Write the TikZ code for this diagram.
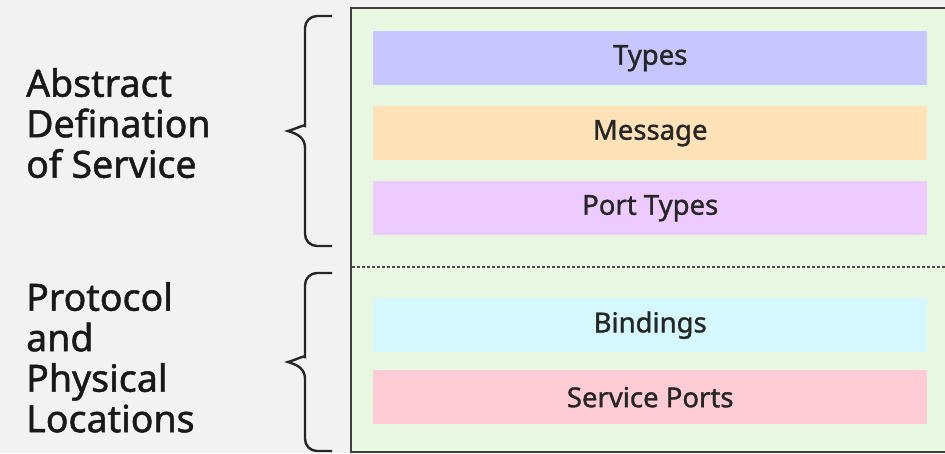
\documentclass[tikz,border=0pt]{standalone}
\usepackage{fontspec}
\setmainfont{Noto Sans}
\newfontfamily\medfont{Noto Sans}[FakeBold=1.3]
\begin{document}
\begin{tikzpicture}[x=1pt,y=-1pt,
  layer/.style={draw=none,minimum width=554pt,minimum height=54pt,anchor=north west,
    font=\medfont\fontsize{27.5}{30}\selectfont,text=black!85},
  side/.style={anchor=north west,align=left,inner sep=0pt,
    font=\medfont\fontsize{37.5}{40.5}\selectfont,text=black!90},
  brace/.style={line width=2.4pt,black!85,rounded corners=12pt}]
\definecolor{bgc}{HTML}{F2F2F2}
\definecolor{panel}{HTML}{E8F7E2}
\definecolor{ctypes}{HTML}{C8C6FE}
\definecolor{cmsg}{HTML}{FFE2B8}
\definecolor{cport}{HTML}{EECBFE}
\definecolor{cbind}{HTML}{D4F8FE}
\definecolor{csvc}{HTML}{FFCBD5}
\fill[bgc] (0,0) rectangle (945,453);
\useasboundingbox (0,0) rectangle (945,453);
% WSDL panel
\draw[fill=panel,draw=black!75,line width=1.3pt] (351,8) rectangle (960,452);
\node[layer,fill=ctypes] (types) at (373,31) {Types};
\node[layer,fill=cmsg] (msg) at (373,106) {Message};
\node[layer,fill=cport] (port) at (373,181) {Port Types};
\node[layer,fill=cbind] (bind) at (373,298) {Bindings};
\node[layer,fill=csvc] (svc) at (373,370) {Service Ports};
\coordinate (dl) at (352,267);
\coordinate (dr) at (945,267);
\draw[black!70,line width=1.2pt,dash pattern=on 2.5pt off 2.5pt] (dl) -- (dr);
% braces
\draw[brace] (332,16) -- (305,16) -- (305,114)
  [sharp corners] .. controls (305,124) and (298,128) .. (288,131)
  .. controls (298,134) and (305,138) .. (305,148)
  [rounded corners=12pt] -- (305,246) -- (332,246);
\draw[brace] (332,273) -- (305,273) -- (305,345)
  [sharp corners] .. controls (305,355) and (298,359) .. (288,362)
  .. controls (298,365) and (305,369) .. (305,379)
  [rounded corners=12pt] -- (305,451) -- (332,451);
% side labels
\node[side] (abs) at (26,68) {Abstract\\Defination\\of Service};
\node[side] (proto) at (26,282) {Protocol\\and\\Physical\\Locations};
\end{tikzpicture}
\end{document}
